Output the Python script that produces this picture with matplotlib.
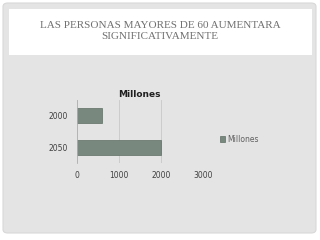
import matplotlib.pyplot as plt
from matplotlib.patches import FancyBboxPatch, Rectangle

years = ['2050', '2000']
millones = [2000, 600]
series_name = 'Millones'
title = 'LAS PERSONAS MAYORES DE 60 AUMENTARA\nSIGNIFICATIVAMENTE'

W, H = 320, 240
fig = plt.figure(figsize=(3.2, 2.4), dpi=100)
fig.patch.set_facecolor('white')

# gray slide panel and white title box
panel = FancyBboxPatch((3 / W, 7 / H), 313 / W, 230 / H,
                       boxstyle='round,pad=0,rounding_size=0.015',
                       transform=fig.transFigure, facecolor='#e4e4e4',
                       edgecolor='#d8d8d8', linewidth=0.8, zorder=-2)
fig.patches.append(panel)
fig.patches.append(Rectangle((9 / W, 1 - 55 / H), 303 / W, 46 / H,
                             transform=fig.transFigure, facecolor='white',
                             edgecolor='none', zorder=-1))
fig.text(0.5, 1 - 31 / H, title, ha='center', va='center',
         family='Liberation Serif', fontsize=8, color='#707070',
         linespacing=1.25)

ax = fig.add_axes([76.5 / W, 1 - 163 / H, 126.5 / W, 63 / H])
ax.set_zorder(2)
ax.set_facecolor('none')
bars = ax.barh(range(len(years)), millones, height=0.48, color='#78887e',
               edgecolor='#5f6e65', linewidth=0.5, label=series_name)
ax.set_xlim(0, 3000)
ax.set_ylim(-0.5, 1.5)
ax.set_xticks([0, 1000, 2000, 3000])
ax.set_yticks(range(len(years)))
ax.set_yticklabels(years)
ax.grid(axis='x', color='#c8c8c8', linewidth=0.6)
ax.set_axisbelow(True)
for s in ['top', 'right', 'bottom']:
    ax.spines[s].set_visible(False)
ax.spines['left'].set_color('#b0b0b0')
ax.spines['left'].set_linewidth(0.6)
ax.tick_params(length=0, labelsize=5.5, colors='#404040', pad=6)
ax.set_title(series_name, fontsize=6.5, fontweight='bold', color='#202020',
             pad=2)

fig.legend(handles=[bars], labels=[series_name], loc='center left',
           bbox_to_anchor=(213 / W, 1 - 139 / H), frameon=False,
           fontsize=5.5, handlelength=0.7, handleheight=0.7,
           handletextpad=0.3, labelcolor='#606060')

fig.savefig('out.png', dpi=100)
